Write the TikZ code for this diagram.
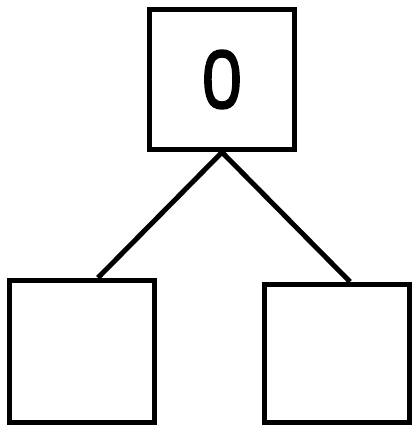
\documentclass[tikz,border=0pt]{standalone}
\usepackage{fontspec}
\newfontfamily\digitfont{Poppins}[FakeBold=2.2]
\begin{document}
\begin{tikzpicture}[x=1pt,y=-1pt,
  treebox/.style={draw=black,line width=5.5pt,minimum width=145pt,minimum height=140pt,inner sep=0pt,fill=none},
  edge/.style={draw=black,line width=5pt}]
\useasboundingbox (0,0) rectangle (412,427);
\node[treebox,font=\digitfont\fontsize{80}{80}\selectfont] (root) at (222,79.5) {\raisebox{-11pt}{\scalebox{0.85}[1]{0}}};
\node[treebox,minimum height=142pt] (lchild) at (82,351.5) {};
\node[treebox,minimum height=138pt] (rchild) at (337,353.5) {};
\coordinate (lend) at ([xshift=16pt]lchild.north);
\coordinate (rend) at ([xshift=13pt]rchild.north);
\draw[edge] (root.south) -- (lend);
\draw[edge] (root.south) -- (rend);
\end{tikzpicture}
\end{document}
